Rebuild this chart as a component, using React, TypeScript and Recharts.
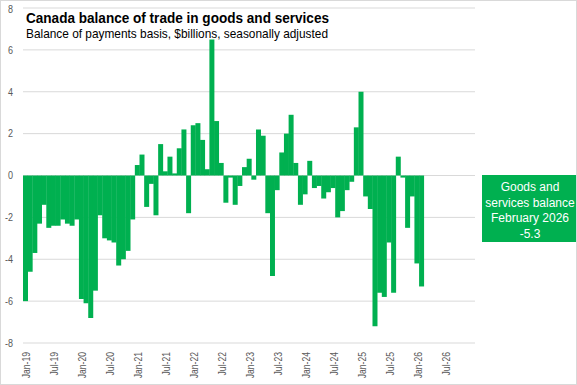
import { BarChart, Bar, XAxis, YAxis, CartesianGrid } from 'recharts';

const monthNames = ['Jan', 'Feb', 'Mar', 'Apr', 'May', 'Jun', 'Jul', 'Aug', 'Sep', 'Oct', 'Nov', 'Dec'];
const years = ['19', '20', '21', '22', '23', '24', '25', '26', '27'];

// $billions, seasonally adjusted, by month
const bal2019 = [-6.0, -4.6, -3.7, -2.3, -1.4, -2.5, -2.4, -2.4, -2.1, -2.3, -2.4, -2.1];
const bal2020 = [-5.9, -6.1, -6.8, -5.5, -1.9, -3.0, -3.1, -3.2, -4.3, -4.0, -3.6, -2.1];
const bal2021 = [0.5, 1.0, -1.5, -0.4, -1.9, 1.5, 0.2, 0.9, 0.1, 1.3, 2.2, -1.8];
const bal2022 = [2.4, 2.5, 1.7, 0.3, 6.5, 2.6, 0.6, -1.3, -0.1, -1.4, -0.5, 0.4];
const bal2023 = [0.8, -0.2, 2.2, 1.9, -1.8, -4.8, -0.7, 1.1, 2.0, 2.9, 0.6, -1.4];
const bal2024 = [-0.9, 0.7, -0.6, -0.5, -1.1, -0.8, -0.6, -2.0, -1.7, -0.7, -0.3, 2.3];
const bal2025 = [4.0, -1.0, -1.6, -7.2, -5.6, -5.8, -3.2, -5.6, 0.9, -0.1, -2.5, -1.0];
const bal2026 = [-4.2, -5.3];

const balance = [...bal2019, ...bal2020, ...bal2021, ...bal2022, ...bal2023, ...bal2024, ...bal2025, ...bal2026];

const yTicks = [-8, -6, -4, -2, 0, 2, 4, 6, 8];
const boxLines = ['Goods and', 'services balance', 'February 2026', '-5.3'];

// axis runs Jan-19 .. Jan-27
const categories: string[] = [];
years.forEach((yr) => monthNames.forEach((m) => categories.push(`${m}-${yr}`)));
categories.length = 97;

const data = categories.map((label, i) => ({
  label,
  value: i < balance.length ? balance[i] : null,
}));

const FONT = '"Liberation Sans", Arial, sans-serif';
const GREEN = '#00B050';
const NARROW = 0.82; // fake a narrow face

const MonthTick = ({ x, payload }: any) => {
  const i = categories.indexOf(payload.value);
  if (i % 6 !== 0 || i > 90) return <g />;
  return (
    <text
      transform={`translate(${x + 1},352) rotate(-90) scale(${NARROW},1)`}
      textAnchor="end"
      dominantBaseline="central"
      fontSize={10.5}
      fontFamily={FONT}
      fill="#595959"
    >
      {payload.value}
    </text>
  );
};

const ValueTick = ({ y, payload }: any) => (
  <text
    transform={`translate(13,${y}) scale(${NARROW},1)`}
    textAnchor="end"
    dominantBaseline="central"
    fontSize={11}
    fontFamily={FONT}
    fill="#595959"
  >
    {payload.value}
  </text>
);

export default function App() {
  return (
    <div style={{ position: 'absolute', left: 0, top: 0, width: 577, height: 385, background: '#fff' }}>
      <BarChart
        width={577}
        height={385}
        data={data}
        margin={{ top: 8, right: 102, bottom: 0, left: 0 }}
        barCategoryGap={0}
        barGap={0}
      >
        <CartesianGrid vertical={false} stroke="#D9D9D9" />
        <XAxis
          dataKey="label"
          interval={0}
          height={42}
          axisLine={false}
          tickLine={false}
          tick={<MonthTick />}
        />
        <YAxis
          type="number"
          domain={[-8, 8]}
          ticks={yTicks}
          width={23}
          axisLine={false}
          tickLine={false}
          tick={<ValueTick />}
        />
        <Bar dataKey="value" fill={GREEN} isAnimationActive={false} />
      </BarChart>

      <svg width={577} height={385} style={{ position: 'absolute', left: 0, top: 0, pointerEvents: 'none' }}>
        <text
          x={26}
          y={23}
          fontSize={15}
          fontWeight="bold"
          fontFamily={FONT}
          fill="#000"
          textLength={303}
          lengthAdjust="spacingAndGlyphs"
        >
          Canada balance of trade in goods and services
        </text>
        <text
          x={26}
          y={38}
          fontSize={13}
          fontFamily={FONT}
          fill="#000"
          textLength={302}
          lengthAdjust="spacingAndGlyphs"
        >
          Balance of payments basis, $billions, seasonally adjusted
        </text>
        <rect x={482} y={175} width={94} height={67} fill={GREEN} />
        {boxLines.map((line, i) => (
          <text key={i} x={530} y={191 + i * 15.5} textAnchor="middle" fontSize={12} fontFamily={FONT} fill="#fff">
            {line}
          </text>
        ))}
        <rect x={0.5} y={0.5} width={576} height={384} fill="none" stroke="#D9D9D9" />
      </svg>
    </div>
  );
}
